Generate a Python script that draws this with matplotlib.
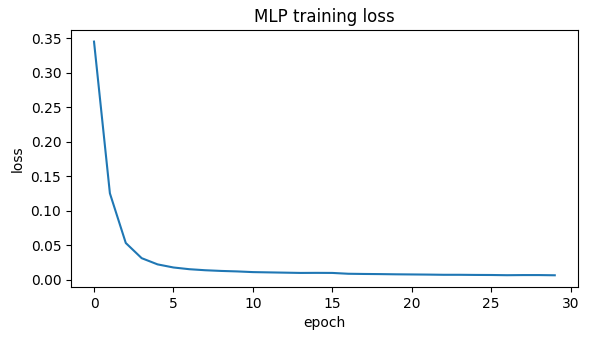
import matplotlib
matplotlib.use("Agg")
import matplotlib.pyplot as plt

epochs = list(range(30))
loss = [0.345, 0.125, 0.053, 0.031, 0.022, 0.0175, 0.015, 0.0135, 0.0125, 0.0118,
        0.0108, 0.0104, 0.0100, 0.0096, 0.0097, 0.0096, 0.0084, 0.0081, 0.0079, 0.0076,
        0.0074, 0.0072, 0.0069, 0.0069, 0.0067, 0.0066, 0.0063, 0.0065, 0.0065, 0.0062]

fig = plt.figure(figsize=(5.89, 3.40), dpi=100)
ax = fig.add_axes([0.1205, 0.156, 0.8605, 0.756])
ax.plot(epochs, loss, color="#1f77b4")
ax.set_title("MLP training loss")
ax.set_xlabel("epoch")
ax.set_ylabel("loss")
fig.savefig("out.png", dpi=100)
